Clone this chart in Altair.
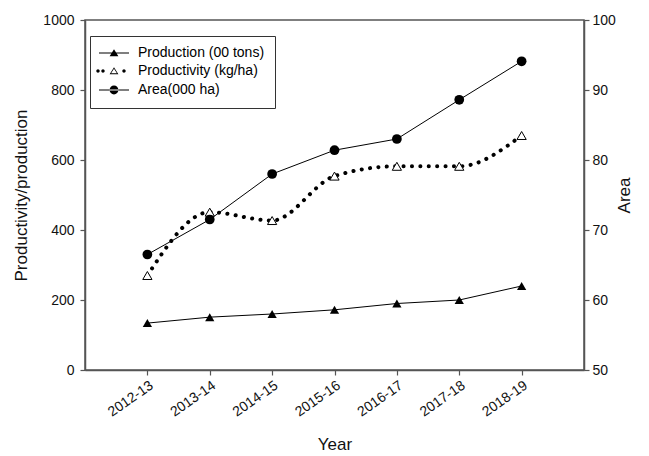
import altair as alt
import pandas as pd

years = ["2012-13", "2013-14", "2014-15", "2015-16", "2016-17", "2017-18", "2018-19"]
production = [134, 151, 160, 172, 190, 200, 240]
productivity = [270, 451, 427, 554, 582, 582, 670]
area = [66.5, 71.5, 78.0, 81.4, 83.0, 88.6, 94.1]
series_names = ["Production (00 tons)", "Productivity (kg/ha)", "Area(000 ha)"]
left_ticks = [0, 200, 400, 600, 800, 1000]
right_ticks = [50, 60, 70, 80, 90, 100]

df = pd.DataFrame({"Year": years, "Production": production,
                   "Productivity": productivity, "Area": area})
legend_df = pd.DataFrame({"series": series_names})

FONT = "Liberation Sans"
AX = "#555555"


def circ(cx, r):
    return f"M{cx - r},0a{r},{r} 0 1,0 {2 * r},0a{r},{r} 0 1,0 {-2 * r},0"


# legend glyphs drawn by fill only (line = thin bar, hollow triangle = ring)
BAR = "M-3.75,-0.13L3.75,-0.13L3.75,0.13L-3.75,0.13Z"
legend_paths = [
    BAR + "M0,-0.95L1.1,0.8L-1.1,0.8Z",
    circ(-4.0, 0.42) + circ(-2.75, 0.42) + circ(2.5, 0.42)
    + "M0,-0.95L1.1,0.8L-1.1,0.8Z M0,-0.55L-0.72,0.56L0.72,0.56Z",
    BAR + circ(0, 1.1),
]

base = alt.Chart(df)

x_enc = alt.X(
    "Year:O",
    sort=years,
    scale=alt.Scale(type="point", padding=1),
    axis=alt.Axis(title="Year", labelAngle=325, labelAlign="right",
                  labelBaseline="top", labelPadding=3, titlePadding=18),
)

left_axis = alt.Axis(title="Productivity/production", values=left_ticks, format="d",
                     labelPadding=6, titlePadding=12)


def y_left(field):
    return alt.Y(f"{field}:Q", title="Productivity/production",
                 scale=alt.Scale(domain=[0, 1000], nice=False), axis=left_axis)


prod_line = base.mark_line(color="black", strokeWidth=1).encode(x=x_enc, y=y_left("Production"))
prod_pts = base.mark_point(shape="triangle-up", filled=True, color="black", size=85,
                           opacity=1).encode(x=x_enc, y=y_left("Production"))
pv_line = base.mark_line(color="black", strokeWidth=4, strokeDash=[0.1, 8.3],
                         strokeCap="round", interpolate="monotone").encode(
    x=x_enc, y=y_left("Productivity"))
pv_pts = base.mark_point(shape="triangle-up", filled=True, fill="white", stroke="black",
                         strokeWidth=1, size=85, opacity=1).encode(
    x=x_enc, y=y_left("Productivity"))

y_right = alt.Y("Area:Q", title="Area", scale=alt.Scale(domain=[50, 100], nice=False),
                axis=alt.Axis(orient="right", title="Area", values=right_ticks,
                              labelPadding=3, titlePadding=18, titleAngle=270))
area_line = base.mark_line(color="black", strokeWidth=1).encode(x=x_enc, y=y_right)
area_pts = base.mark_point(shape="circle", filled=True, color="black", size=95,
                           opacity=1).encode(x=x_enc, y=y_right)

left = alt.layer(prod_line, prod_pts, pv_line, pv_pts)
right = alt.layer(area_line, area_pts)

legend_layer = alt.Chart(legend_df).mark_point(
    filled=True, fill="black", opacity=0,
).encode(
    shape=alt.Shape(
        "series:N",
        sort=series_names,
        scale=alt.Scale(domain=series_names, range=legend_paths),
        legend=alt.Legend(
            title=None, orient="none", legendX=5, legendY=16,
            strokeColor="#333333", fillColor="white", padding=10,
            symbolSize=64, symbolOffset=7, labelOffset=17,
            symbolFillColor="black", symbolOpacity=1,
            labelFont=FONT, labelFontSize=14, labelColor="black",
            rowPadding=4,
        ),
    )
)

chart = (
    alt.layer(left, right, legend_layer)
    .resolve_scale(y="independent", shape="independent")
    .properties(width=499, height=350, padding={"left": 4, "top": 5, "right": 5, "bottom": 0},
                background="white")
    .configure_view(stroke=AX, strokeWidth=1.5)
    .configure_axis(
        domainColor=AX, domainWidth=1.5, tickColor=AX, tickWidth=1.2, tickSize=5,
        grid=False, labelFont=FONT, labelFontSize=14, labelColor="#111111",
        titleFont=FONT, titleFontSize=17, titleFontWeight="normal", titleColor="#111111",
    )
)

chart.save("out.html", embed_options={"renderer": "svg", "actions": False})
